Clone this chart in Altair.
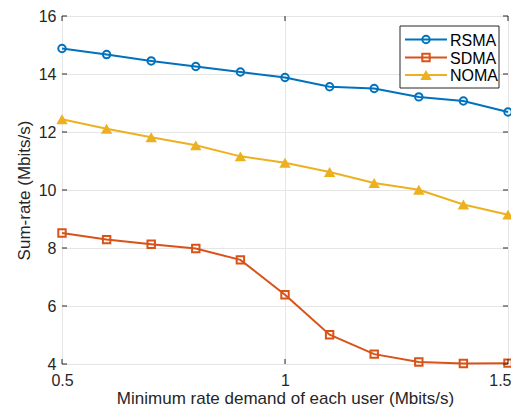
import altair as alt
import pandas as pd

x_vals = [0.5, 0.6, 0.7, 0.8, 0.9, 1.0, 1.1, 1.2, 1.3, 1.4, 1.5]
rsma = [14.88, 14.67, 14.45, 14.26, 14.07, 13.88, 13.56, 13.50, 13.21, 13.07, 12.69]
sdma = [8.52, 8.29, 8.13, 7.98, 7.59, 6.39, 5.01, 4.34, 4.07, 4.02, 4.03]
noma = [12.44, 12.11, 11.82, 11.54, 11.16, 10.94, 10.62, 10.24, 10.01, 9.50, 9.15]

series_names = ["RSMA", "SDMA", "NOMA"]
series_colors = ["#0072BD", "#D95319", "#EDB120"]
series_shapes = ["circle", "square", "triangle-up"]
x_ticks = [0.5, 1.0, 1.5]
y_ticks = [4, 6, 8, 10, 12, 14, 16]

W, H = 446, 348
FONT = "Liberation Sans"
DARK = "#262626"

rows = []
for name, vals in zip(series_names, [rsma, sdma, noma]):
    for xv, yv in zip(x_vals, vals):
        rows.append({"x": xv, "y": yv, "series": name})
df = pd.DataFrame(rows)

xs = alt.Scale(domain=[0.5, 1.5], nice=False, zero=False)
ys = alt.Scale(domain=[4, 16], nice=False, zero=False)
cs = alt.Scale(domain=series_names, range=series_colors)
ss = alt.Scale(domain=series_names, range=series_shapes)

X = alt.X("x:Q", scale=xs, axis=alt.Axis(
    values=x_ticks, format="~g", title="Minimum rate demand of each user (Mbits/s)",
    grid=True, gridColor="#e6e6e6", tickSize=0, domain=False, labelFlush=False,
    labelAlign={"condition": {"test": "datum.value >= 1.5", "value": "right"}, "value": "center"},
    labelOffset={"condition": {"test": "datum.value >= 1.5", "value": 3}, "value": 0},
    labelFont=FONT, labelFontSize=16, labelColor=DARK, labelPadding=8,
    titleFont=FONT, titleFontSize=17, titleColor="#262626", titleFontWeight="normal",
    titleBaseline="alphabetic", titleY=39))
Y = alt.Y("y:Q", scale=ys, axis=alt.Axis(
    values=y_ticks, title="Sum-rate (Mbits/s)",
    grid=True, gridColor="#e6e6e6", tickSize=0, domain=False, labelFlush=False,
    labelFont=FONT, labelFontSize=16, labelColor=DARK, labelPadding=6,
    titleFont=FONT, titleFontSize=17, titleColor="#262626", titleFontWeight="normal", titlePadding=5))

base = alt.Chart(df)
lines = base.mark_line(strokeWidth=2).encode(
    x=X, y=Y, color=alt.Color("series:N", scale=cs, legend=None), detail="series:N")
pts_open = base.transform_filter(alt.datum.series != "NOMA").mark_point(
    filled=False, strokeWidth=2, size=55, opacity=1).encode(
    x="x:Q", y="y:Q",
    color=alt.Color("series:N", scale=cs, legend=None),
    shape=alt.Shape("series:N", scale=ss, legend=None))
pts_fill = base.transform_filter(alt.datum.series == "NOMA").mark_point(
    filled=True, strokeWidth=1.5, size=130, opacity=1).encode(
    x="x:Q", y="y:Q",
    color=alt.Color("series:N", scale=cs, legend=None),
    shape=alt.Shape("series:N", scale=ss, legend=None))

# inward ticks
tk = 5
ydf = pd.DataFrame({"v": y_ticks})
xdf = pd.DataFrame({"v": x_ticks})
ytl = alt.Chart(ydf).mark_rule(color=DARK, strokeWidth=1).encode(
    y=alt.Y("v:Q", scale=ys), x=alt.value(0), x2=alt.value(tk))
ytr = alt.Chart(ydf).mark_rule(color=DARK, strokeWidth=1).encode(
    y=alt.Y("v:Q", scale=ys), x=alt.value(W - tk), x2=alt.value(W))
xtb = alt.Chart(xdf).mark_rule(color=DARK, strokeWidth=1).encode(
    x=alt.X("v:Q", scale=xs), y=alt.value(H - tk), y2=alt.value(H))
xtt = alt.Chart(xdf).mark_rule(color=DARK, strokeWidth=1).encode(
    x=alt.X("v:Q", scale=xs), y=alt.value(0), y2=alt.value(tk))

# manual legend (MATLAB style)
lx0, lx1, ly0, ly1 = 338, 437, 10, 72
row_y = [23.5, 41.5, 59]
leg_df = pd.DataFrame({"series": series_names})
legend_layers = [
    alt.Chart(leg_df).mark_rect(fill="white", stroke=DARK, strokeWidth=1).encode(
        x=alt.value(lx0), x2=alt.value(lx1), y=alt.value(ly0), y2=alt.value(ly1)
    ).transform_filter(alt.datum.series == "RSMA")
]
for i, (name, col, shp) in enumerate(zip(series_names, series_colors, series_shapes)):
    sub = alt.Chart(leg_df).transform_filter(alt.datum.series == name)
    legend_layers.append(sub.mark_rule(color=col, strokeWidth=2).encode(
        x=alt.value(343), x2=alt.value(385), y=alt.value(row_y[i])))
    if name == "NOMA":
        legend_layers.append(sub.mark_point(filled=True, color=col, shape=shp, size=130, opacity=1).encode(
            x=alt.value(364), y=alt.value(row_y[i])))
    else:
        legend_layers.append(sub.mark_point(filled=False, color=col, shape=shp, size=55, strokeWidth=2, opacity=1).encode(
            x=alt.value(364), y=alt.value(row_y[i])))
    legend_layers.append(sub.mark_text(align="left", baseline="middle", font=FONT, fontSize=16, color="black").encode(
        x=alt.value(388), y=alt.value(row_y[i] + 1), text="series:N"))

chart = alt.layer(lines, pts_open, pts_fill, ytl, ytr, xtb, xtt, *legend_layers).properties(
    width=W, height=H,
    autosize=alt.AutoSizeParams(type="none"),
    padding={"left": 54, "top": 8, "right": 3, "bottom": 43},
).configure_view(stroke=DARK, strokeWidth=1).configure(background="white")

chart.save("out.html", embed_options={"renderer": "svg", "actions": False})
